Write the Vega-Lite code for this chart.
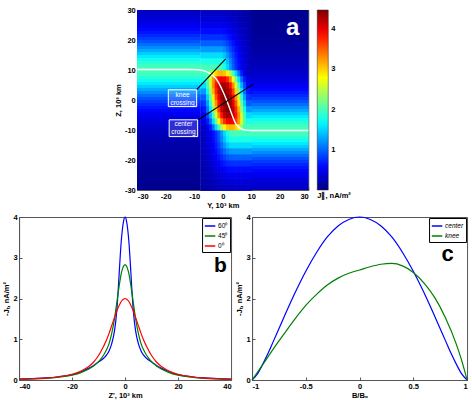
{
"$schema":"https://vega.github.io/schema/vega-lite/v6.json",
"padding":{"left":2,"right":2,"top":5,"bottom":0},
"background":"white",
"config":{
 "font":"Liberation Sans",
 "locale":{"number":{"decimal":".","thousands":",","grouping":[3],"currency":["$",""],"minus":"-"}},
 "view":{"stroke":"#555","strokeWidth":1},
 "axis":{"labelFont":"Liberation Sans","labelFontSize":7.5,"labelFontWeight":"bold","labelColor":"black","titleFont":"Liberation Sans","titleFontSize":7.5,"titleFontWeight":"bold","titleColor":"black","domainColor":"#555","tickColor":"#555","tickSize":-3,"labelPadding":5,"grid":false,"titlePadding":2}
},
"datasets":{
 "flat":[
{"y0":-30,"y1":-8,"z0":29,"z1":30,"j":0.30},{"y0":-30,"y1":-8,"z0":28,"z1":29,"j":0.34},{"y0":-30,"y1":-8,"z0":27,"z1":28,"j":0.37},{"y0":-30,"y1":-8,"z0":26,"z1":27,"j":0.41},{"y0":-30,"y1":-8,"z0":25,"z1":26,"j":0.46},{"y0":-30,"y1":-8,"z0":24,"z1":25,"j":0.51},{"y0":-30,"y1":-8,"z0":23,"z1":24,"j":0.58},{"y0":-30,"y1":-8,"z0":22,"z1":23,"j":0.65},{"y0":-30,"y1":-8,"z0":21,"z1":22,"j":0.73},{"y0":-30,"y1":-8,"z0":20,"z1":21,"j":0.82},
{"y0":-30,"y1":-8,"z0":19,"z1":20,"j":0.92},{"y0":-30,"y1":-8,"z0":18,"z1":19,"j":1.04},{"y0":-30,"y1":-8,"z0":17,"z1":18,"j":1.17},{"y0":-30,"y1":-8,"z0":16,"z1":17,"j":1.31},{"y0":-30,"y1":-8,"z0":15,"z1":16,"j":1.46},{"y0":-30,"y1":-8,"z0":14,"z1":15,"j":1.60},{"y0":-30,"y1":-8,"z0":13,"z1":14,"j":1.74},{"y0":-30,"y1":-8,"z0":12,"z1":13,"j":1.86},{"y0":-30,"y1":-8,"z0":11,"z1":12,"j":1.95},{"y0":-30,"y1":-8,"z0":10,"z1":11,"j":1.99},
{"y0":-30,"y1":-8,"z0":9,"z1":10,"j":1.99},{"y0":-30,"y1":-8,"z0":8,"z1":9,"j":1.95},{"y0":-30,"y1":-8,"z0":7,"z1":8,"j":1.86},{"y0":-30,"y1":-8,"z0":6,"z1":7,"j":1.74},{"y0":-30,"y1":-8,"z0":5,"z1":6,"j":1.60},{"y0":-30,"y1":-8,"z0":4,"z1":5,"j":1.46},{"y0":-30,"y1":-8,"z0":3,"z1":4,"j":1.31},{"y0":-30,"y1":-8,"z0":2,"z1":3,"j":1.17},{"y0":-30,"y1":-8,"z0":1,"z1":2,"j":1.04},{"y0":-30,"y1":-8,"z0":0,"z1":1,"j":0.92},
{"y0":-30,"y1":-8,"z0":-1,"z1":0,"j":0.82},{"y0":-30,"y1":-8,"z0":-2,"z1":-1,"j":0.73},{"y0":-30,"y1":-8,"z0":-3,"z1":-2,"j":0.65},{"y0":-30,"y1":-8,"z0":-4,"z1":-3,"j":0.58},{"y0":-30,"y1":-8,"z0":-5,"z1":-4,"j":0.51},{"y0":-30,"y1":-8,"z0":-6,"z1":-5,"j":0.46},{"y0":-30,"y1":-8,"z0":-7,"z1":-6,"j":0.41},{"y0":-30,"y1":-8,"z0":-8,"z1":-7,"j":0.37},{"y0":-30,"y1":-8,"z0":-9,"z1":-8,"j":0.34},{"y0":-30,"y1":-8,"z0":-10,"z1":-9,"j":0.30},
{"y0":-30,"y1":-8,"z0":-11,"z1":-10,"j":0.28},{"y0":-30,"y1":-8,"z0":-12,"z1":-11,"j":0.25},{"y0":-30,"y1":-8,"z0":-13,"z1":-12,"j":0.23},{"y0":-30,"y1":-8,"z0":-14,"z1":-13,"j":0.21},{"y0":-30,"y1":-8,"z0":-15,"z1":-14,"j":0.19},{"y0":-30,"y1":-8,"z0":-16,"z1":-15,"j":0.18},{"y0":-30,"y1":-8,"z0":-17,"z1":-16,"j":0.16},{"y0":-30,"y1":-8,"z0":-18,"z1":-17,"j":0.15},{"y0":-30,"y1":-8,"z0":-19,"z1":-18,"j":0.14},{"y0":-30,"y1":-8,"z0":-20,"z1":-19,"j":0.13},
{"y0":-30,"y1":-8,"z0":-21,"z1":-20,"j":0.12},{"y0":-30,"y1":-8,"z0":-22,"z1":-21,"j":0.11},{"y0":-30,"y1":-8,"z0":-23,"z1":-22,"j":0.11},{"y0":-30,"y1":-8,"z0":-24,"z1":-23,"j":0.10},{"y0":-30,"y1":-8,"z0":-25,"z1":-24,"j":0.09},{"y0":-30,"y1":-8,"z0":-26,"z1":-25,"j":0.09},{"y0":-30,"y1":-8,"z0":-27,"z1":-26,"j":0.08},{"y0":-30,"y1":-8,"z0":-28,"z1":-27,"j":0.08},{"y0":-30,"y1":-8,"z0":-29,"z1":-28,"j":0.07},{"y0":-30,"y1":-8,"z0":-30,"z1":-29,"j":0.07},
{"y0":10,"y1":30,"z0":29,"z1":30,"j":0.07},{"y0":10,"y1":30,"z0":28,"z1":29,"j":0.07},{"y0":10,"y1":30,"z0":27,"z1":28,"j":0.08},{"y0":10,"y1":30,"z0":26,"z1":27,"j":0.08},{"y0":10,"y1":30,"z0":25,"z1":26,"j":0.09},{"y0":10,"y1":30,"z0":24,"z1":25,"j":0.09},{"y0":10,"y1":30,"z0":23,"z1":24,"j":0.10},{"y0":10,"y1":30,"z0":22,"z1":23,"j":0.11},{"y0":10,"y1":30,"z0":21,"z1":22,"j":0.11},{"y0":10,"y1":30,"z0":20,"z1":21,"j":0.12},
{"y0":10,"y1":30,"z0":19,"z1":20,"j":0.13},{"y0":10,"y1":30,"z0":18,"z1":19,"j":0.14},{"y0":10,"y1":30,"z0":17,"z1":18,"j":0.15},{"y0":10,"y1":30,"z0":16,"z1":17,"j":0.16},{"y0":10,"y1":30,"z0":15,"z1":16,"j":0.18},{"y0":10,"y1":30,"z0":14,"z1":15,"j":0.19},{"y0":10,"y1":30,"z0":13,"z1":14,"j":0.21},{"y0":10,"y1":30,"z0":12,"z1":13,"j":0.23},{"y0":10,"y1":30,"z0":11,"z1":12,"j":0.25},{"y0":10,"y1":30,"z0":10,"z1":11,"j":0.28},
{"y0":10,"y1":30,"z0":9,"z1":10,"j":0.30},{"y0":10,"y1":30,"z0":8,"z1":9,"j":0.34},{"y0":10,"y1":30,"z0":7,"z1":8,"j":0.37},{"y0":10,"y1":30,"z0":6,"z1":7,"j":0.41},{"y0":10,"y1":30,"z0":5,"z1":6,"j":0.46},{"y0":10,"y1":30,"z0":4,"z1":5,"j":0.51},{"y0":10,"y1":30,"z0":3,"z1":4,"j":0.58},{"y0":10,"y1":30,"z0":2,"z1":3,"j":0.65},{"y0":10,"y1":30,"z0":1,"z1":2,"j":0.73},{"y0":10,"y1":30,"z0":0,"z1":1,"j":0.82},
{"y0":10,"y1":30,"z0":-1,"z1":0,"j":0.92},{"y0":10,"y1":30,"z0":-2,"z1":-1,"j":1.04},{"y0":10,"y1":30,"z0":-3,"z1":-2,"j":1.17},{"y0":10,"y1":30,"z0":-4,"z1":-3,"j":1.31},{"y0":10,"y1":30,"z0":-5,"z1":-4,"j":1.46},{"y0":10,"y1":30,"z0":-6,"z1":-5,"j":1.60},{"y0":10,"y1":30,"z0":-7,"z1":-6,"j":1.74},{"y0":10,"y1":30,"z0":-8,"z1":-7,"j":1.86},{"y0":10,"y1":30,"z0":-9,"z1":-8,"j":1.95},{"y0":10,"y1":30,"z0":-10,"z1":-9,"j":1.99},
{"y0":10,"y1":30,"z0":-11,"z1":-10,"j":1.99},{"y0":10,"y1":30,"z0":-12,"z1":-11,"j":1.95},{"y0":10,"y1":30,"z0":-13,"z1":-12,"j":1.86},{"y0":10,"y1":30,"z0":-14,"z1":-13,"j":1.74},{"y0":10,"y1":30,"z0":-15,"z1":-14,"j":1.60},{"y0":10,"y1":30,"z0":-16,"z1":-15,"j":1.46},{"y0":10,"y1":30,"z0":-17,"z1":-16,"j":1.31},{"y0":10,"y1":30,"z0":-18,"z1":-17,"j":1.17},{"y0":10,"y1":30,"z0":-19,"z1":-18,"j":1.04},{"y0":10,"y1":30,"z0":-20,"z1":-19,"j":0.92},
{"y0":10,"y1":30,"z0":-21,"z1":-20,"j":0.82},{"y0":10,"y1":30,"z0":-22,"z1":-21,"j":0.73},{"y0":10,"y1":30,"z0":-23,"z1":-22,"j":0.65},{"y0":10,"y1":30,"z0":-24,"z1":-23,"j":0.58},{"y0":10,"y1":30,"z0":-25,"z1":-24,"j":0.51},{"y0":10,"y1":30,"z0":-26,"z1":-25,"j":0.46},{"y0":10,"y1":30,"z0":-27,"z1":-26,"j":0.41},{"y0":10,"y1":30,"z0":-28,"z1":-27,"j":0.37},{"y0":10,"y1":30,"z0":-29,"z1":-28,"j":0.34},{"y0":10,"y1":30,"z0":-30,"z1":-29,"j":0.30}
 ],
 "mid":[
{"y":-7.5,"z":29,"j":0.32},{"y":-6.5,"z":29,"j":0.32},{"y":-5.5,"z":29,"j":0.32},{"y":-4.5,"z":29,"j":0.32},{"y":-3.5,"z":29,"j":0.32},{"y":-2.5,"z":29,"j":0.32},{"y":-1.5,"z":29,"j":0.32},{"y":-0.5,"z":29,"j":0.32},{"y":0.5,"z":29,"j":0.31},{"y":1.5,"z":29,"j":0.30},{"y":2.5,"z":29,"j":0.28},{"y":3.5,"z":29,"j":0.26},{"y":4.5,"z":29,"j":0.24},{"y":5.5,"z":29,"j":0.22},{"y":6.5,"z":29,"j":0.20},{"y":7.5,"z":29,"j":0.18},{"y":8.5,"z":29,"j":0.16},{"y":9.5,"z":29,"j":0.15},
{"y":-7.5,"z":27,"j":0.39},{"y":-6.5,"z":27,"j":0.39},{"y":-5.5,"z":27,"j":0.39},{"y":-4.5,"z":27,"j":0.39},{"y":-3.5,"z":27,"j":0.39},{"y":-2.5,"z":27,"j":0.39},{"y":-1.5,"z":27,"j":0.39},{"y":-0.5,"z":27,"j":0.39},{"y":0.5,"z":27,"j":0.38},{"y":1.5,"z":27,"j":0.36},{"y":2.5,"z":27,"j":0.34},{"y":3.5,"z":27,"j":0.31},{"y":4.5,"z":27,"j":0.28},{"y":5.5,"z":27,"j":0.25},{"y":6.5,"z":27,"j":0.23},{"y":7.5,"z":27,"j":0.20},{"y":8.5,"z":27,"j":0.18},{"y":9.5,"z":27,"j":0.16},
{"y":-7.5,"z":25,"j":0.49},{"y":-6.5,"z":25,"j":0.49},{"y":-5.5,"z":25,"j":0.49},{"y":-4.5,"z":25,"j":0.49},{"y":-3.5,"z":25,"j":0.49},{"y":-2.5,"z":25,"j":0.49},{"y":-1.5,"z":25,"j":0.49},{"y":-0.5,"z":25,"j":0.48},{"y":0.5,"z":25,"j":0.47},{"y":1.5,"z":25,"j":0.44},{"y":2.5,"z":25,"j":0.41},{"y":3.5,"z":25,"j":0.37},{"y":4.5,"z":25,"j":0.33},{"y":5.5,"z":25,"j":0.29},{"y":6.5,"z":25,"j":0.26},{"y":7.5,"z":25,"j":0.23},{"y":8.5,"z":25,"j":0.20},{"y":9.5,"z":25,"j":0.18},
{"y":-7.5,"z":23,"j":0.61},{"y":-6.5,"z":23,"j":0.61},{"y":-5.5,"z":23,"j":0.61},{"y":-4.5,"z":23,"j":0.61},{"y":-3.5,"z":23,"j":0.61},{"y":-2.5,"z":23,"j":0.61},{"y":-1.5,"z":23,"j":0.61},{"y":-0.5,"z":23,"j":0.61},{"y":0.5,"z":23,"j":0.59},{"y":1.5,"z":23,"j":0.55},{"y":2.5,"z":23,"j":0.50},{"y":3.5,"z":23,"j":0.44},{"y":4.5,"z":23,"j":0.39},{"y":5.5,"z":23,"j":0.34},{"y":6.5,"z":23,"j":0.29},{"y":7.5,"z":23,"j":0.25},{"y":8.5,"z":23,"j":0.22},{"y":9.5,"z":23,"j":0.19},
{"y":-7.5,"z":21,"j":0.77},{"y":-6.5,"z":21,"j":0.77},{"y":-5.5,"z":21,"j":0.77},{"y":-4.5,"z":21,"j":0.77},{"y":-3.5,"z":21,"j":0.77},{"y":-2.5,"z":21,"j":0.77},{"y":-1.5,"z":21,"j":0.77},{"y":-0.5,"z":21,"j":0.77},{"y":0.5,"z":21,"j":0.74},{"y":1.5,"z":21,"j":0.68},{"y":2.5,"z":21,"j":0.61},{"y":3.5,"z":21,"j":0.53},{"y":4.5,"z":21,"j":0.46},{"y":5.5,"z":21,"j":0.39},{"y":6.5,"z":21,"j":0.33},{"y":7.5,"z":21,"j":0.28},{"y":8.5,"z":21,"j":0.24},{"y":9.5,"z":21,"j":0.21},
{"y":-7.5,"z":19,"j":0.98},{"y":-6.5,"z":19,"j":0.98},{"y":-5.5,"z":19,"j":0.98},{"y":-4.5,"z":19,"j":0.98},{"y":-3.5,"z":19,"j":0.98},{"y":-2.5,"z":19,"j":0.98},{"y":-1.5,"z":19,"j":0.98},{"y":-0.5,"z":19,"j":0.97},{"y":0.5,"z":19,"j":0.93},{"y":1.5,"z":19,"j":0.84},{"y":2.5,"z":19,"j":0.74},{"y":3.5,"z":19,"j":0.63},{"y":4.5,"z":19,"j":0.53},{"y":5.5,"z":19,"j":0.44},{"y":6.5,"z":19,"j":0.37},{"y":7.5,"z":19,"j":0.31},{"y":8.5,"z":19,"j":0.26},{"y":9.5,"z":19,"j":0.22},
{"y":-7.5,"z":17,"j":1.24},{"y":-6.5,"z":17,"j":1.24},{"y":-5.5,"z":17,"j":1.24},{"y":-4.5,"z":17,"j":1.24},{"y":-3.5,"z":17,"j":1.24},{"y":-2.5,"z":17,"j":1.24},{"y":-1.5,"z":17,"j":1.24},{"y":-0.5,"z":17,"j":1.23},{"y":0.5,"z":17,"j":1.16},{"y":1.5,"z":17,"j":1.03},{"y":2.5,"z":17,"j":0.88},{"y":3.5,"z":17,"j":0.74},{"y":4.5,"z":17,"j":0.61},{"y":5.5,"z":17,"j":0.50},{"y":6.5,"z":17,"j":0.41},{"y":7.5,"z":17,"j":0.34},{"y":8.5,"z":17,"j":0.28},{"y":9.5,"z":17,"j":0.24},
{"y":-7.5,"z":15,"j":1.53},{"y":-6.5,"z":15,"j":1.53},{"y":-5.5,"z":15,"j":1.53},{"y":-4.5,"z":15,"j":1.53},{"y":-3.5,"z":15,"j":1.53},{"y":-2.5,"z":15,"j":1.53},{"y":-1.5,"z":15,"j":1.53},{"y":-0.5,"z":15,"j":1.52},{"y":0.5,"z":15,"j":1.41},{"y":1.5,"z":15,"j":1.23},{"y":2.5,"z":15,"j":1.03},{"y":3.5,"z":15,"j":0.84},{"y":4.5,"z":15,"j":0.68},{"y":5.5,"z":15,"j":0.55},{"y":6.5,"z":15,"j":0.44},{"y":7.5,"z":15,"j":0.36},{"y":8.5,"z":15,"j":0.30},{"y":9.5,"z":15,"j":0.25},
{"y":-7.5,"z":13,"j":1.80},{"y":-6.5,"z":13,"j":1.80},{"y":-5.5,"z":13,"j":1.80},{"y":-4.5,"z":13,"j":1.80},{"y":-3.5,"z":13,"j":1.80},{"y":-2.5,"z":13,"j":1.80},{"y":-1.5,"z":13,"j":1.80},{"y":-0.5,"z":13,"j":1.78},{"y":0.5,"z":13,"j":1.64},{"y":1.5,"z":13,"j":1.41},{"y":2.5,"z":13,"j":1.16},{"y":3.5,"z":13,"j":0.93},{"y":4.5,"z":13,"j":0.74},{"y":5.5,"z":13,"j":0.59},{"y":6.5,"z":13,"j":0.47},{"y":7.5,"z":13,"j":0.38},{"y":8.5,"z":13,"j":0.31},{"y":9.5,"z":13,"j":0.26},
{"y":-7.5,"z":11,"j":1.98},{"y":-6.5,"z":11,"j":1.98},{"y":-5.5,"z":11,"j":1.98},{"y":-4.5,"z":11,"j":1.98},{"y":-3.5,"z":11,"j":1.98},{"y":-2.5,"z":11,"j":1.98},{"y":-1.5,"z":11,"j":1.98},{"y":-0.5,"z":11,"j":1.95},{"y":0.5,"z":11,"j":1.78},{"y":1.5,"z":11,"j":1.52},{"y":2.5,"z":11,"j":1.23},{"y":3.5,"z":11,"j":0.97},{"y":4.5,"z":11,"j":0.77},{"y":5.5,"z":11,"j":0.61},{"y":6.5,"z":11,"j":0.48},{"y":7.5,"z":11,"j":0.39},{"y":8.5,"z":11,"j":0.32},{"y":9.5,"z":11,"j":0.26},
{"y":-7.5,"z":9,"j":1.98},{"y":-6.5,"z":9,"j":1.98},{"y":-5.5,"z":9,"j":1.98},{"y":-4.5,"z":9,"j":2.29},{"y":-3.5,"z":9,"j":2.71},{"y":-2.5,"z":9,"j":2.99},{"y":-1.5,"z":9,"j":3.12},{"y":-0.5,"z":9,"j":3.14},{"y":0.5,"z":9,"j":3.06},{"y":1.5,"z":9,"j":2.84},{"y":2.5,"z":9,"j":2.47},{"y":3.5,"z":9,"j":2.00},{"y":4.5,"z":9,"j":1.50},{"y":5.5,"z":9,"j":1.04},{"y":6.5,"z":9,"j":0.68},{"y":7.5,"z":9,"j":0.44},{"y":8.5,"z":9,"j":0.32},{"y":9.5,"z":9,"j":0.32},
{"y":-7.5,"z":7,"j":1.80},{"y":-6.5,"z":7,"j":1.80},{"y":-5.5,"z":7,"j":2.03},{"y":-4.5,"z":7,"j":2.67},{"y":-3.5,"z":7,"j":3.25},{"y":-2.5,"z":7,"j":3.68},{"y":-1.5,"z":7,"j":3.92},{"y":-0.5,"z":7,"j":3.99},{"y":0.5,"z":7,"j":3.95},{"y":1.5,"z":7,"j":3.74},{"y":2.5,"z":7,"j":3.35},{"y":3.5,"z":7,"j":2.79},{"y":4.5,"z":7,"j":2.15},{"y":5.5,"z":7,"j":1.54},{"y":6.5,"z":7,"j":1.03},{"y":7.5,"z":7,"j":0.67},{"y":8.5,"z":7,"j":0.44},{"y":9.5,"z":7,"j":0.39},
{"y":-7.5,"z":5,"j":1.53},{"y":-6.5,"z":5,"j":1.53},{"y":-5.5,"z":5,"j":1.94},{"y":-4.5,"z":5,"j":2.62},{"y":-3.5,"z":5,"j":3.30},{"y":-2.5,"z":5,"j":3.85},{"y":-1.5,"z":5,"j":4.20},{"y":-0.5,"z":5,"j":4.34},{"y":0.5,"z":5,"j":4.34},{"y":1.5,"z":5,"j":4.20},{"y":2.5,"z":5,"j":3.85},{"y":3.5,"z":5,"j":3.31},{"y":4.5,"z":5,"j":2.63},{"y":5.5,"z":5,"j":1.94},{"y":6.5,"z":5,"j":1.33},{"y":7.5,"z":5,"j":0.87},{"y":8.5,"z":5,"j":0.56},{"y":9.5,"z":5,"j":0.49},
{"y":-7.5,"z":3,"j":1.24},{"y":-6.5,"z":3,"j":1.24},{"y":-5.5,"z":3,"j":1.72},{"y":-4.5,"z":3,"j":2.40},{"y":-3.5,"z":3,"j":3.12},{"y":-2.5,"z":3,"j":3.74},{"y":-1.5,"z":3,"j":4.18},{"y":-0.5,"z":3,"j":4.41},{"y":0.5,"z":3,"j":4.46},{"y":1.5,"z":3,"j":4.38},{"y":2.5,"z":3,"j":4.12},{"y":3.5,"z":3,"j":3.63},{"y":4.5,"z":3,"j":2.98},{"y":5.5,"z":3,"j":2.27},{"y":6.5,"z":3,"j":1.59},{"y":7.5,"z":3,"j":1.06},{"y":8.5,"z":3,"j":0.68},{"y":9.5,"z":3,"j":0.61},
{"y":-7.5,"z":1,"j":0.98},{"y":-6.5,"z":1,"j":0.98},{"y":-5.5,"z":1,"j":1.49},{"y":-4.5,"z":1,"j":2.13},{"y":-3.5,"z":1,"j":2.85},{"y":-2.5,"z":1,"j":3.53},{"y":-1.5,"z":1,"j":4.05},{"y":-0.5,"z":1,"j":4.36},{"y":0.5,"z":1,"j":4.47},{"y":1.5,"z":1,"j":4.45},{"y":2.5,"z":1,"j":4.27},{"y":3.5,"z":1,"j":3.87},{"y":4.5,"z":1,"j":3.27},{"y":5.5,"z":1,"j":2.56},{"y":6.5,"z":1,"j":1.86},{"y":7.5,"z":1,"j":1.26},{"y":8.5,"z":1,"j":0.82},{"y":9.5,"z":1,"j":0.77},
{"y":-7.5,"z":-1,"j":0.77},{"y":-6.5,"z":-1,"j":0.82},{"y":-5.5,"z":-1,"j":1.26},{"y":-4.5,"z":-1,"j":1.86},{"y":-3.5,"z":-1,"j":2.56},{"y":-2.5,"z":-1,"j":3.27},{"y":-1.5,"z":-1,"j":3.87},{"y":-0.5,"z":-1,"j":4.27},{"y":0.5,"z":-1,"j":4.45},{"y":1.5,"z":-1,"j":4.47},{"y":2.5,"z":-1,"j":4.36},{"y":3.5,"z":-1,"j":4.05},{"y":4.5,"z":-1,"j":3.53},{"y":5.5,"z":-1,"j":2.85},{"y":6.5,"z":-1,"j":2.13},{"y":7.5,"z":-1,"j":1.49},{"y":8.5,"z":-1,"j":0.98},{"y":9.5,"z":-1,"j":0.98},
{"y":-7.5,"z":-3,"j":0.61},{"y":-6.5,"z":-3,"j":0.68},{"y":-5.5,"z":-3,"j":1.06},{"y":-4.5,"z":-3,"j":1.59},{"y":-3.5,"z":-3,"j":2.27},{"y":-2.5,"z":-3,"j":2.98},{"y":-1.5,"z":-3,"j":3.63},{"y":-0.5,"z":-3,"j":4.12},{"y":0.5,"z":-3,"j":4.38},{"y":1.5,"z":-3,"j":4.46},{"y":2.5,"z":-3,"j":4.41},{"y":3.5,"z":-3,"j":4.18},{"y":4.5,"z":-3,"j":3.74},{"y":5.5,"z":-3,"j":3.12},{"y":6.5,"z":-3,"j":2.40},{"y":7.5,"z":-3,"j":1.72},{"y":8.5,"z":-3,"j":1.24},{"y":9.5,"z":-3,"j":1.24},
{"y":-7.5,"z":-5,"j":0.49},{"y":-6.5,"z":-5,"j":0.56},{"y":-5.5,"z":-5,"j":0.87},{"y":-4.5,"z":-5,"j":1.33},{"y":-3.5,"z":-5,"j":1.94},{"y":-2.5,"z":-5,"j":2.63},{"y":-1.5,"z":-5,"j":3.31},{"y":-0.5,"z":-5,"j":3.85},{"y":0.5,"z":-5,"j":4.20},{"y":1.5,"z":-5,"j":4.34},{"y":2.5,"z":-5,"j":4.34},{"y":3.5,"z":-5,"j":4.20},{"y":4.5,"z":-5,"j":3.85},{"y":5.5,"z":-5,"j":3.30},{"y":6.5,"z":-5,"j":2.62},{"y":7.5,"z":-5,"j":1.94},{"y":8.5,"z":-5,"j":1.53},{"y":9.5,"z":-5,"j":1.53},
{"y":-7.5,"z":-7,"j":0.39},{"y":-6.5,"z":-7,"j":0.44},{"y":-5.5,"z":-7,"j":0.67},{"y":-4.5,"z":-7,"j":1.03},{"y":-3.5,"z":-7,"j":1.54},{"y":-2.5,"z":-7,"j":2.15},{"y":-1.5,"z":-7,"j":2.79},{"y":-0.5,"z":-7,"j":3.35},{"y":0.5,"z":-7,"j":3.74},{"y":1.5,"z":-7,"j":3.95},{"y":2.5,"z":-7,"j":3.99},{"y":3.5,"z":-7,"j":3.92},{"y":4.5,"z":-7,"j":3.68},{"y":5.5,"z":-7,"j":3.25},{"y":6.5,"z":-7,"j":2.67},{"y":7.5,"z":-7,"j":2.03},{"y":8.5,"z":-7,"j":1.80},{"y":9.5,"z":-7,"j":1.80},
{"y":-7.5,"z":-9,"j":0.32},{"y":-6.5,"z":-9,"j":0.32},{"y":-5.5,"z":-9,"j":0.44},{"y":-4.5,"z":-9,"j":0.68},{"y":-3.5,"z":-9,"j":1.04},{"y":-2.5,"z":-9,"j":1.50},{"y":-1.5,"z":-9,"j":2.00},{"y":-0.5,"z":-9,"j":2.47},{"y":0.5,"z":-9,"j":2.84},{"y":1.5,"z":-9,"j":3.06},{"y":2.5,"z":-9,"j":3.14},{"y":3.5,"z":-9,"j":3.12},{"y":4.5,"z":-9,"j":2.99},{"y":5.5,"z":-9,"j":2.71},{"y":6.5,"z":-9,"j":2.29},{"y":7.5,"z":-9,"j":1.98},{"y":8.5,"z":-9,"j":1.98},{"y":9.5,"z":-9,"j":1.98},
{"y":-7.5,"z":-11,"j":0.26},{"y":-6.5,"z":-11,"j":0.32},{"y":-5.5,"z":-11,"j":0.39},{"y":-4.5,"z":-11,"j":0.48},{"y":-3.5,"z":-11,"j":0.61},{"y":-2.5,"z":-11,"j":0.77},{"y":-1.5,"z":-11,"j":0.97},{"y":-0.5,"z":-11,"j":1.23},{"y":0.5,"z":-11,"j":1.52},{"y":1.5,"z":-11,"j":1.78},{"y":2.5,"z":-11,"j":1.95},{"y":3.5,"z":-11,"j":1.98},{"y":4.5,"z":-11,"j":1.98},{"y":5.5,"z":-11,"j":1.98},{"y":6.5,"z":-11,"j":1.98},{"y":7.5,"z":-11,"j":1.98},{"y":8.5,"z":-11,"j":1.98},{"y":9.5,"z":-11,"j":1.98},
{"y":-7.5,"z":-13,"j":0.26},{"y":-6.5,"z":-13,"j":0.31},{"y":-5.5,"z":-13,"j":0.38},{"y":-4.5,"z":-13,"j":0.47},{"y":-3.5,"z":-13,"j":0.59},{"y":-2.5,"z":-13,"j":0.74},{"y":-1.5,"z":-13,"j":0.93},{"y":-0.5,"z":-13,"j":1.16},{"y":0.5,"z":-13,"j":1.41},{"y":1.5,"z":-13,"j":1.64},{"y":2.5,"z":-13,"j":1.78},{"y":3.5,"z":-13,"j":1.80},{"y":4.5,"z":-13,"j":1.80},{"y":5.5,"z":-13,"j":1.80},{"y":6.5,"z":-13,"j":1.80},{"y":7.5,"z":-13,"j":1.80},{"y":8.5,"z":-13,"j":1.80},{"y":9.5,"z":-13,"j":1.80},
{"y":-7.5,"z":-15,"j":0.25},{"y":-6.5,"z":-15,"j":0.30},{"y":-5.5,"z":-15,"j":0.36},{"y":-4.5,"z":-15,"j":0.44},{"y":-3.5,"z":-15,"j":0.55},{"y":-2.5,"z":-15,"j":0.68},{"y":-1.5,"z":-15,"j":0.84},{"y":-0.5,"z":-15,"j":1.03},{"y":0.5,"z":-15,"j":1.23},{"y":1.5,"z":-15,"j":1.41},{"y":2.5,"z":-15,"j":1.52},{"y":3.5,"z":-15,"j":1.53},{"y":4.5,"z":-15,"j":1.53},{"y":5.5,"z":-15,"j":1.53},{"y":6.5,"z":-15,"j":1.53},{"y":7.5,"z":-15,"j":1.53},{"y":8.5,"z":-15,"j":1.53},{"y":9.5,"z":-15,"j":1.53},
{"y":-7.5,"z":-17,"j":0.24},{"y":-6.5,"z":-17,"j":0.28},{"y":-5.5,"z":-17,"j":0.34},{"y":-4.5,"z":-17,"j":0.41},{"y":-3.5,"z":-17,"j":0.50},{"y":-2.5,"z":-17,"j":0.61},{"y":-1.5,"z":-17,"j":0.74},{"y":-0.5,"z":-17,"j":0.88},{"y":0.5,"z":-17,"j":1.03},{"y":1.5,"z":-17,"j":1.16},{"y":2.5,"z":-17,"j":1.23},{"y":3.5,"z":-17,"j":1.24},{"y":4.5,"z":-17,"j":1.24},{"y":5.5,"z":-17,"j":1.24},{"y":6.5,"z":-17,"j":1.24},{"y":7.5,"z":-17,"j":1.24},{"y":8.5,"z":-17,"j":1.24},{"y":9.5,"z":-17,"j":1.24},
{"y":-7.5,"z":-19,"j":0.22},{"y":-6.5,"z":-19,"j":0.26},{"y":-5.5,"z":-19,"j":0.31},{"y":-4.5,"z":-19,"j":0.37},{"y":-3.5,"z":-19,"j":0.44},{"y":-2.5,"z":-19,"j":0.53},{"y":-1.5,"z":-19,"j":0.63},{"y":-0.5,"z":-19,"j":0.74},{"y":0.5,"z":-19,"j":0.84},{"y":1.5,"z":-19,"j":0.93},{"y":2.5,"z":-19,"j":0.97},{"y":3.5,"z":-19,"j":0.98},{"y":4.5,"z":-19,"j":0.98},{"y":5.5,"z":-19,"j":0.98},{"y":6.5,"z":-19,"j":0.98},{"y":7.5,"z":-19,"j":0.98},{"y":8.5,"z":-19,"j":0.98},{"y":9.5,"z":-19,"j":0.98},
{"y":-7.5,"z":-21,"j":0.21},{"y":-6.5,"z":-21,"j":0.24},{"y":-5.5,"z":-21,"j":0.28},{"y":-4.5,"z":-21,"j":0.33},{"y":-3.5,"z":-21,"j":0.39},{"y":-2.5,"z":-21,"j":0.46},{"y":-1.5,"z":-21,"j":0.53},{"y":-0.5,"z":-21,"j":0.61},{"y":0.5,"z":-21,"j":0.68},{"y":1.5,"z":-21,"j":0.74},{"y":2.5,"z":-21,"j":0.77},{"y":3.5,"z":-21,"j":0.77},{"y":4.5,"z":-21,"j":0.77},{"y":5.5,"z":-21,"j":0.77},{"y":6.5,"z":-21,"j":0.77},{"y":7.5,"z":-21,"j":0.77},{"y":8.5,"z":-21,"j":0.77},{"y":9.5,"z":-21,"j":0.77},
{"y":-7.5,"z":-23,"j":0.19},{"y":-6.5,"z":-23,"j":0.22},{"y":-5.5,"z":-23,"j":0.25},{"y":-4.5,"z":-23,"j":0.29},{"y":-3.5,"z":-23,"j":0.34},{"y":-2.5,"z":-23,"j":0.39},{"y":-1.5,"z":-23,"j":0.44},{"y":-0.5,"z":-23,"j":0.50},{"y":0.5,"z":-23,"j":0.55},{"y":1.5,"z":-23,"j":0.59},{"y":2.5,"z":-23,"j":0.61},{"y":3.5,"z":-23,"j":0.61},{"y":4.5,"z":-23,"j":0.61},{"y":5.5,"z":-23,"j":0.61},{"y":6.5,"z":-23,"j":0.61},{"y":7.5,"z":-23,"j":0.61},{"y":8.5,"z":-23,"j":0.61},{"y":9.5,"z":-23,"j":0.61},
{"y":-7.5,"z":-25,"j":0.18},{"y":-6.5,"z":-25,"j":0.20},{"y":-5.5,"z":-25,"j":0.23},{"y":-4.5,"z":-25,"j":0.26},{"y":-3.5,"z":-25,"j":0.29},{"y":-2.5,"z":-25,"j":0.33},{"y":-1.5,"z":-25,"j":0.37},{"y":-0.5,"z":-25,"j":0.41},{"y":0.5,"z":-25,"j":0.44},{"y":1.5,"z":-25,"j":0.47},{"y":2.5,"z":-25,"j":0.48},{"y":3.5,"z":-25,"j":0.49},{"y":4.5,"z":-25,"j":0.49},{"y":5.5,"z":-25,"j":0.49},{"y":6.5,"z":-25,"j":0.49},{"y":7.5,"z":-25,"j":0.49},{"y":8.5,"z":-25,"j":0.49},{"y":9.5,"z":-25,"j":0.49},
{"y":-7.5,"z":-27,"j":0.16},{"y":-6.5,"z":-27,"j":0.18},{"y":-5.5,"z":-27,"j":0.20},{"y":-4.5,"z":-27,"j":0.23},{"y":-3.5,"z":-27,"j":0.25},{"y":-2.5,"z":-27,"j":0.28},{"y":-1.5,"z":-27,"j":0.31},{"y":-0.5,"z":-27,"j":0.34},{"y":0.5,"z":-27,"j":0.36},{"y":1.5,"z":-27,"j":0.38},{"y":2.5,"z":-27,"j":0.39},{"y":3.5,"z":-27,"j":0.39},{"y":4.5,"z":-27,"j":0.39},{"y":5.5,"z":-27,"j":0.39},{"y":6.5,"z":-27,"j":0.39},{"y":7.5,"z":-27,"j":0.39},{"y":8.5,"z":-27,"j":0.39},{"y":9.5,"z":-27,"j":0.39},
{"y":-7.5,"z":-29,"j":0.15},{"y":-6.5,"z":-29,"j":0.16},{"y":-5.5,"z":-29,"j":0.18},{"y":-4.5,"z":-29,"j":0.20},{"y":-3.5,"z":-29,"j":0.22},{"y":-2.5,"z":-29,"j":0.24},{"y":-1.5,"z":-29,"j":0.26},{"y":-0.5,"z":-29,"j":0.28},{"y":0.5,"z":-29,"j":0.30},{"y":1.5,"z":-29,"j":0.31},{"y":2.5,"z":-29,"j":0.32},{"y":3.5,"z":-29,"j":0.32},{"y":4.5,"z":-29,"j":0.32},{"y":5.5,"z":-29,"j":0.32},{"y":6.5,"z":-29,"j":0.32},{"y":7.5,"z":-29,"j":0.32},{"y":8.5,"z":-29,"j":0.32},{"y":9.5,"z":-29,"j":0.32}
 ],
 "wline":[
{"y":-30,"z":10.15},{"y":-12,"z":10.15},{"y":-9,"z":10.1},{"y":-7,"z":9.85},{"y":-5.1,"z":9.1},{"y":-3.5,"z":8.1},{"y":-2.1,"z":6.8},{"y":-0.5,"z":4.0},{"y":1.3,"z":0.1},{"y":3.05,"z":-4.4},{"y":4.2,"z":-7.2},{"y":5.0,"z":-8.5},{"y":6.0,"z":-9.3},{"y":7.0,"z":-9.8},{"y":8.3,"z":-10.05},{"y":10,"z":-10.15},{"y":30,"z":-10.15}
 ],
 "tracks":[
{"t":"knee","y":-9.16,"z":3.42},{"t":"knee","y":1.02,"z":13.7},{"t":"center","y":-8.6,"z":-6.6},{"t":"center","y":10.7,"z":5.3}
 ],
 "boxes":[
{"y0":-19.1,"y1":-9.16,"z0":-2.2,"z1":3.4},{"y0":-18.8,"y1":-8.8,"z0":-12.2,"z1":-6.6}
 ],
 "btext":[
{"y":-14.1,"z":1.7,"s":"knee"},{"y":-14.1,"z":-0.9,"s":"crossing"},{"y":-13.8,"z":-8.1,"s":"center"},{"y":-13.8,"z":-10.8,"s":"crossing"}
 ],
 "pb":[
{"s":"60⁰","x":-40,"j":0.02},{"s":"60⁰","x":-35,"j":0.035},{"s":"60⁰","x":-30,"j":0.05},{"s":"60⁰","x":-25,"j":0.08},{"s":"60⁰","x":-20,"j":0.13},{"s":"60⁰","x":-18,"j":0.17},{"s":"60⁰","x":-16,"j":0.22},{"s":"60⁰","x":-14,"j":0.28},{"s":"60⁰","x":-12,"j":0.35},{"s":"60⁰","x":-10,"j":0.44},{"s":"60⁰","x":-8,"j":0.54},{"s":"60⁰","x":-7,"j":0.61},{"s":"60⁰","x":-6,"j":0.72},{"s":"60⁰","x":-5,"j":0.90},{"s":"60⁰","x":-4,"j":1.20},{"s":"60⁰","x":-3.5,"j":1.45},{"s":"60⁰","x":-3,"j":1.80},{"s":"60⁰","x":-2.5,"j":2.30},{"s":"60⁰","x":-2,"j":2.85},{"s":"60⁰","x":-1.5,"j":3.35},{"s":"60⁰","x":-1,"j":3.70},{"s":"60⁰","x":-0.5,"j":3.92},{"s":"60⁰","x":0,"j":4.0},
{"s":"60⁰","x":0.5,"j":3.92},{"s":"60⁰","x":1,"j":3.70},{"s":"60⁰","x":1.5,"j":3.35},{"s":"60⁰","x":2,"j":2.85},{"s":"60⁰","x":2.5,"j":2.30},{"s":"60⁰","x":3,"j":1.80},{"s":"60⁰","x":3.5,"j":1.45},{"s":"60⁰","x":4,"j":1.20},{"s":"60⁰","x":5,"j":0.90},{"s":"60⁰","x":6,"j":0.72},{"s":"60⁰","x":7,"j":0.61},{"s":"60⁰","x":8,"j":0.54},{"s":"60⁰","x":10,"j":0.44},{"s":"60⁰","x":12,"j":0.35},{"s":"60⁰","x":14,"j":0.28},{"s":"60⁰","x":16,"j":0.22},{"s":"60⁰","x":18,"j":0.17},{"s":"60⁰","x":20,"j":0.13},{"s":"60⁰","x":25,"j":0.08},{"s":"60⁰","x":30,"j":0.05},{"s":"60⁰","x":35,"j":0.035},{"s":"60⁰","x":40,"j":0.02},
{"s":"45⁰","x":-40,"j":0.015},{"s":"45⁰","x":-35,"j":0.025},{"s":"45⁰","x":-30,"j":0.04},{"s":"45⁰","x":-25,"j":0.07},{"s":"45⁰","x":-20,"j":0.12},{"s":"45⁰","x":-18,"j":0.15},{"s":"45⁰","x":-16,"j":0.20},{"s":"45⁰","x":-14,"j":0.26},{"s":"45⁰","x":-12,"j":0.34},{"s":"45⁰","x":-10,"j":0.45},{"s":"45⁰","x":-8,"j":0.62},{"s":"45⁰","x":-7,"j":0.74},{"s":"45⁰","x":-6,"j":0.90},{"s":"45⁰","x":-5,"j":1.15},{"s":"45⁰","x":-4,"j":1.50},{"s":"45⁰","x":-3.5,"j":1.72},{"s":"45⁰","x":-3,"j":1.95},{"s":"45⁰","x":-2.5,"j":2.18},{"s":"45⁰","x":-2,"j":2.40},{"s":"45⁰","x":-1.5,"j":2.59},{"s":"45⁰","x":-1,"j":2.72},{"s":"45⁰","x":-0.5,"j":2.80},{"s":"45⁰","x":0,"j":2.83},
{"s":"45⁰","x":0.5,"j":2.80},{"s":"45⁰","x":1,"j":2.72},{"s":"45⁰","x":1.5,"j":2.59},{"s":"45⁰","x":2,"j":2.40},{"s":"45⁰","x":2.5,"j":2.18},{"s":"45⁰","x":3,"j":1.95},{"s":"45⁰","x":3.5,"j":1.72},{"s":"45⁰","x":4,"j":1.50},{"s":"45⁰","x":5,"j":1.15},{"s":"45⁰","x":6,"j":0.90},{"s":"45⁰","x":7,"j":0.74},{"s":"45⁰","x":8,"j":0.62},{"s":"45⁰","x":10,"j":0.45},{"s":"45⁰","x":12,"j":0.34},{"s":"45⁰","x":14,"j":0.26},{"s":"45⁰","x":16,"j":0.20},{"s":"45⁰","x":18,"j":0.15},{"s":"45⁰","x":20,"j":0.12},{"s":"45⁰","x":25,"j":0.07},{"s":"45⁰","x":30,"j":0.04},{"s":"45⁰","x":35,"j":0.025},{"s":"45⁰","x":40,"j":0.015},
{"s":"0⁰","x":-40,"j":0.021},{"s":"0⁰","x":-35,"j":0.031},{"s":"0⁰","x":-30,"j":0.047},{"s":"0⁰","x":-25,"j":0.08},{"s":"0⁰","x":-20,"j":0.14},{"s":"0⁰","x":-18,"j":0.18},{"s":"0⁰","x":-16,"j":0.24},{"s":"0⁰","x":-14,"j":0.32},{"s":"0⁰","x":-12,"j":0.43},{"s":"0⁰","x":-10,"j":0.60},{"s":"0⁰","x":-8,"j":0.84},{"s":"0⁰","x":-7,"j":0.98},{"s":"0⁰","x":-6,"j":1.15},{"s":"0⁰","x":-5,"j":1.34},{"s":"0⁰","x":-4,"j":1.53},{"s":"0⁰","x":-3.5,"j":1.62},{"s":"0⁰","x":-3,"j":1.71},{"s":"0⁰","x":-2.5,"j":1.79},{"s":"0⁰","x":-2,"j":1.86},{"s":"0⁰","x":-1.5,"j":1.92},{"s":"0⁰","x":-1,"j":1.96},{"s":"0⁰","x":-0.5,"j":1.99},{"s":"0⁰","x":0,"j":2.0},
{"s":"0⁰","x":0.5,"j":1.99},{"s":"0⁰","x":1,"j":1.96},{"s":"0⁰","x":1.5,"j":1.92},{"s":"0⁰","x":2,"j":1.86},{"s":"0⁰","x":2.5,"j":1.79},{"s":"0⁰","x":3,"j":1.71},{"s":"0⁰","x":3.5,"j":1.62},{"s":"0⁰","x":4,"j":1.53},{"s":"0⁰","x":5,"j":1.34},{"s":"0⁰","x":6,"j":1.15},{"s":"0⁰","x":7,"j":0.98},{"s":"0⁰","x":8,"j":0.84},{"s":"0⁰","x":10,"j":0.60},{"s":"0⁰","x":12,"j":0.43},{"s":"0⁰","x":14,"j":0.32},{"s":"0⁰","x":16,"j":0.24},{"s":"0⁰","x":18,"j":0.18},{"s":"0⁰","x":20,"j":0.14},{"s":"0⁰","x":25,"j":0.08},{"s":"0⁰","x":30,"j":0.047},{"s":"0⁰","x":35,"j":0.031},{"s":"0⁰","x":40,"j":0.021}
 ],
 "pc":[
{"s":"center","x":-1,"j":0},{"s":"center","x":-0.95,"j":0.15},{"s":"center","x":-0.9,"j":0.39},{"s":"center","x":-0.85,"j":0.66},{"s":"center","x":-0.8,"j":0.96},{"s":"center","x":-0.7,"j":1.56},{"s":"center","x":-0.6,"j":2.14},{"s":"center","x":-0.5,"j":2.67},{"s":"center","x":-0.4,"j":3.13},{"s":"center","x":-0.3,"j":3.51},{"s":"center","x":-0.2,"j":3.78},{"s":"center","x":-0.1,"j":3.94},{"s":"center","x":0,"j":4.0},{"s":"center","x":0.1,"j":3.94},{"s":"center","x":0.2,"j":3.78},{"s":"center","x":0.3,"j":3.51},{"s":"center","x":0.4,"j":3.13},{"s":"center","x":0.5,"j":2.67},{"s":"center","x":0.6,"j":2.14},{"s":"center","x":0.7,"j":1.56},{"s":"center","x":0.8,"j":0.96},{"s":"center","x":0.85,"j":0.66},{"s":"center","x":0.9,"j":0.39},{"s":"center","x":0.95,"j":0.15},{"s":"center","x":1,"j":0},
{"s":"knee","x":-1,"j":0},{"s":"knee","x":-0.95,"j":0.19},{"s":"knee","x":-0.9,"j":0.38},{"s":"knee","x":-0.8,"j":0.77},{"s":"knee","x":-0.7,"j":1.14},{"s":"knee","x":-0.6,"j":1.50},{"s":"knee","x":-0.5,"j":1.83},{"s":"knee","x":-0.4,"j":2.10},{"s":"knee","x":-0.3,"j":2.33},{"s":"knee","x":-0.2,"j":2.50},{"s":"knee","x":-0.1,"j":2.62},{"s":"knee","x":0,"j":2.70},{"s":"knee","x":0.1,"j":2.78},{"s":"knee","x":0.2,"j":2.84},{"s":"knee","x":0.3,"j":2.86},{"s":"knee","x":0.4,"j":2.80},{"s":"knee","x":0.5,"j":2.64},{"s":"knee","x":0.6,"j":2.38},{"s":"knee","x":0.7,"j":2.02},{"s":"knee","x":0.8,"j":1.52},{"s":"knee","x":0.9,"j":0.88},{"s":"knee","x":0.95,"j":0.48},{"s":"knee","x":1,"j":0}
 ]
},
"center":true,
"spacing":2,
"resolve":{"scale":{"color":"independent"},"legend":{"color":"independent"}},
"vconcat":[
 {
  "width":171,"height":180,
  "layer":[
   {"data":{"name":"flat"},"mark":{"type":"rect"},
    "encoding":{
     "x":{"field":"y0","type":"quantitative","scale":{"domain":[-30,30],"nice":false},"axis":{"values":[-30,-20,-10,0,10,20,30],"title":"Y, 10³ km"}},
     "x2":{"field":"y1"},
     "y":{"field":"z0","type":"quantitative","scale":{"domain":[-30,30],"nice":false},"axis":{"values":[-30,-20,-10,0,10,20,30],"title":"Z, 10³ km"}},
     "y2":{"field":"z1"},
     "color":{"field":"j","type":"quantitative","scale":{"type":"linear","domain":[0,0.56,1.68,2.8,3.92,4.48],"range":["#000080","#0000ff","#00ffff","#ffff00","#ff0000","#800000"],"interpolate":"rgb","clamp":true},
      "legend":{"type":"gradient","title":"J∥, nA/m²","titleOrient":"bottom","titleAnchor":"start","gradientLength":180,"gradientThickness":11,"values":[1,2,3,4],"offset":9,"labelFontSize":7.5,"labelFontWeight":"bold","labelFont":"Liberation Sans","titleFontSize":7.5,"titleFont":"Liberation Sans","titleFontWeight":"bold","titlePadding":2,"gradientStrokeColor":"#222","gradientStrokeWidth":0.5,"labelOffset":3,"direction":"vertical"}}
    }},
   {"data":{"name":"flat"},"mark":{"type":"rect"},
    "encoding":{"x":{"field":"y0","type":"quantitative"},"x2":{"field":"y1"},"y":{"field":"z0","type":"quantitative"},"y2":{"field":"z1"},"color":{"field":"j","type":"quantitative"}}},
   {"data":{"name":"flat"},"mark":{"type":"rect"},
    "encoding":{"x":{"field":"y0","type":"quantitative"},"x2":{"field":"y1"},"y":{"field":"z0","type":"quantitative"},"y2":{"field":"z1"},"color":{"field":"j","type":"quantitative"}}},
   {"data":{"name":"mid"},"mark":{"type":"rect","binSpacing":0},
    "encoding":{
     "x":{"field":"y","type":"quantitative","bin":{"step":1,"extent":[-8,10]},"scale":{"domain":[-30,30],"nice":false},"axis":{"values":[-30,-20,-10,0,10,20,30],"title":"Y, 10³ km"}},
     "y":{"field":"z","type":"quantitative","bin":{"step":2,"extent":[-30,30]},"scale":{"domain":[-30,30],"nice":false},"axis":{"values":[-30,-20,-10,0,10,20,30],"title":"Z, 10³ km"}},
     "color":{"field":"j","type":"quantitative"}
    }},
   {"data":{"name":"mid"},"mark":{"type":"rect","binSpacing":0},
    "encoding":{"x":{"field":"y","type":"quantitative","bin":{"step":1,"extent":[-8,10]}},"y":{"field":"z","type":"quantitative","bin":{"step":2,"extent":[-30,30]}},"color":{"field":"j","type":"quantitative"}}},
   {"data":{"name":"mid"},"mark":{"type":"rect","binSpacing":0},
    "encoding":{"x":{"field":"y","type":"quantitative","bin":{"step":1,"extent":[-8,10]}},"y":{"field":"z","type":"quantitative","bin":{"step":2,"extent":[-30,30]}},"color":{"field":"j","type":"quantitative"}}},
   {"data":{"name":"wline"},"mark":{"type":"line","color":"white","strokeWidth":1.4,"interpolate":"monotone"},
    "encoding":{"x":{"field":"y","type":"quantitative"},"y":{"field":"z","type":"quantitative"}}},
   {"data":{"name":"tracks"},"mark":{"type":"line","color":"black","strokeWidth":1.1},
    "encoding":{"x":{"field":"y","type":"quantitative"},"y":{"field":"z","type":"quantitative"},"detail":{"field":"t"}}},
   {"data":{"name":"boxes"},"mark":{"type":"rect","fill":"white","fillOpacity":0.18,"stroke":"white","strokeWidth":1},
    "encoding":{"x":{"field":"y0","type":"quantitative"},"x2":{"field":"y1"},"y":{"field":"z0","type":"quantitative"},"y2":{"field":"z1"}}},
   {"data":{"name":"btext"},"mark":{"type":"text","color":"white","fontSize":6.5,"font":"Liberation Sans","baseline":"middle","align":"center"},
    "encoding":{"x":{"field":"y","type":"quantitative"},"y":{"field":"z","type":"quantitative"},"text":{"field":"s"}}},
   {"data":{"values":[{"y":24.5,"z":23.9,"s":"a"}]},"mark":{"type":"text","color":"white","fontSize":24,"fontWeight":"bold","font":"Liberation Sans","baseline":"middle","align":"center"},
    "encoding":{"x":{"field":"y","type":"quantitative"},"y":{"field":"z","type":"quantitative"},"text":{"field":"s"}}}
  ]
 },
 {
  "spacing":1,
  "resolve":{"scale":{"color":"independent"},"legend":{"color":"independent"}},
  "hconcat":[
   {
    "width":212,"height":163,
    "layer":[
     {"data":{"name":"pb"},"mark":{"type":"line","strokeWidth":1.2,"interpolate":"monotone"},
      "encoding":{
       "x":{"field":"x","type":"quantitative","scale":{"domain":[-40,40],"nice":false},"axis":{"values":[-40,-20,0,20,40],"title":"Z', 10³ km"}},
       "y":{"field":"j","type":"quantitative","scale":{"domain":[0,4],"nice":false},"axis":{"values":[0,1,2,3,4],"title":"-Jₜ, nA/m²"}},
       "color":{"field":"s","type":"nominal","scale":{"domain":["60⁰","45⁰","0⁰"],"range":["#0000ff","#008000","#ff0000"]},
        "legend":{"title":null,"orient":"top-right","offset":1,"padding":2,"strokeColor":"black","fillColor":"white","symbolType":"stroke","symbolSize":110,"symbolStrokeWidth":1.5,"labelFontSize":6.5,"labelFont":"Liberation Sans","labelOffset":2,"rowPadding":0}}
      }},
     {"data":{"values":[{"x":36,"j":2.8,"s":"b"}]},"mark":{"type":"text","color":"black","fontSize":21,"fontWeight":"bold","font":"Liberation Sans","baseline":"middle","align":"center"},
      "encoding":{"x":{"field":"x","type":"quantitative"},"y":{"field":"j","type":"quantitative"},"text":{"field":"s"}}}
    ]
   },
   {
    "width":215,"height":163,
    "layer":[
     {"data":{"name":"pc"},"mark":{"type":"line","strokeWidth":1.2,"interpolate":"monotone"},
      "encoding":{
       "x":{"field":"x","type":"quantitative","scale":{"domain":[-1,1],"nice":false},"axis":{"values":[-1,-0.5,0,0.5,1],"format":"~g","title":"B/B₀"}},
       "y":{"field":"j","type":"quantitative","scale":{"domain":[0,4],"nice":false},"axis":{"values":[0,1,2,3,4],"title":"-Jₜ, nA/m²"}},
       "color":{"field":"s","type":"nominal","scale":{"domain":["center","knee"],"range":["#0000ff","#008000"]},
        "legend":{"title":null,"orient":"top-right","offset":1,"padding":2,"strokeColor":"black","fillColor":"white","symbolType":"stroke","symbolSize":110,"symbolStrokeWidth":1.5,"labelFontSize":6.5,"labelFont":"Liberation Sans","labelFontStyle":"italic","labelOffset":2,"rowPadding":0}}
      }},
     {"data":{"values":[{"x":0.82,"j":3.1,"s":"c"}]},"mark":{"type":"text","color":"black","fontSize":22,"fontWeight":"bold","font":"Liberation Sans","baseline":"middle","align":"center"},
      "encoding":{"x":{"field":"x","type":"quantitative"},"y":{"field":"j","type":"quantitative"},"text":{"field":"s"}}}
    ]
   }
  ]
 }
]
}
